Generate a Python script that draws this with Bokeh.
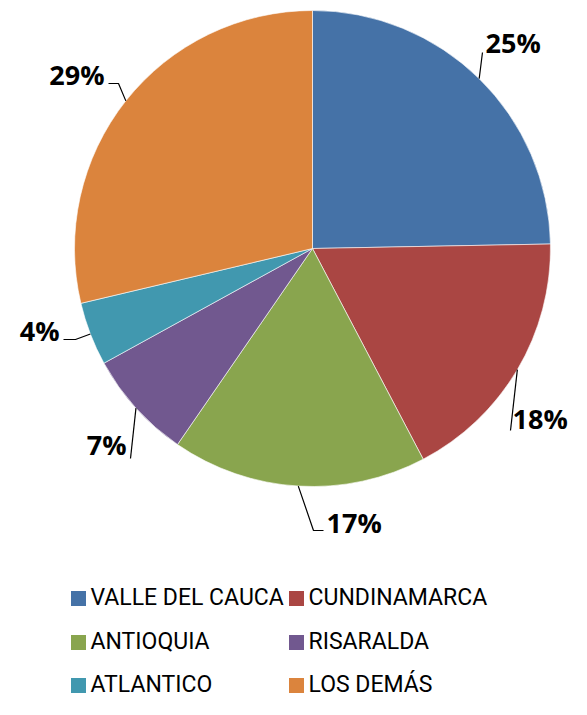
import math
from bokeh.plotting import figure
from bokeh.models import Range1d, ColumnDataSource
from bokeh.core.properties import value
from bokeh.embed import file_html
from bokeh.resources import INLINE

categories = ["VALLE DEL CAUCA", "CUNDINAMARCA", "ANTIOQUIA", "RISARALDA", "ATLANTICO", "LOS DEMÁS"]
shares = [24.7, 17.6, 17.3, 7.4, 4.3, 28.7]
colors = ["#4572A7", "#AA4643", "#89A54E", "#71588F", "#4198AF", "#DB843D"]

W, H = 571, 699
CX, CY, R = 312, 248, 238  # pie centre / radius in page px

def sx(x):
    return x - CX

def sy(y):
    return CY - y

p = figure(width=W, height=H, output_backend="svg", toolbar_location=None,
           x_range=Range1d(-CX, W - CX), y_range=Range1d(CY - H, CY),
           min_border=0, outline_line_color=None)
p.axis.visible = False
p.grid.visible = False
p.background_fill_color = "white"
p.border_fill_color = "white"

total = sum(shares)
starts, ends, mids = [], [], []
cum = 0.0
for s in shares:
    a0 = math.pi / 2 - 2 * math.pi * cum / total
    cum += s
    a1 = math.pi / 2 - 2 * math.pi * cum / total
    starts.append(a0)
    ends.append(a1)
    mids.append((a0 + a1) / 2)

src = ColumnDataSource(dict(start=starts, end=ends, color=colors, cat=categories))
p.wedge(x=0, y=0, radius=R, start_angle="start", end_angle="end", direction="clock",
        fill_color="color", line_color="white", line_width=0.6, source=src)

# data labels with leader lines
labels = [f"{round(s / total * 100)}%" for s in shares]
# leader elbow points (page px) and label anchors, layout only
leader_rest = [[(482, 52)], [(510, 430)], [(313, 530), (323, 530)],
               [(130, 458)], [(75, 339), (63, 339)], [(118, 83), (108, 83)]]
label_pos = [(485, 42, "left"), (512, 418, "left"), (326, 522, "left"),
             (126, 444, "right"), (59, 330, "right"), (104, 74, "right")]

xs_l, ys_l = [], []
for m, rest in zip(mids, leader_rest):
    x0 = R * math.cos(m)
    y0 = R * math.sin(m)
    xs_l.append([x0] + [sx(px) for px, py in rest])
    ys_l.append([y0] + [sy(py) for px, py in rest])
p.multi_line(xs=xs_l, ys=ys_l, line_color="black", line_width=1.2)

for lab, (px, py, al) in zip(labels, label_pos):
    p.text(x=[sx(px)], y=[sy(py)], text=[lab], text_align=al, text_baseline="middle",
           text_font=value("Open Sans"), text_font_style="bold", text_font_size="27px",
           text_color="black")

# legend (manual, 2 columns)
col_x = [78, 296]
row_y = [598, 642, 685]
for i, (cat, c) in enumerate(zip(categories, colors)):
    cx_ = col_x[i % 2]
    cy_ = row_y[i // 2]
    p.rect(x=[sx(cx_)], y=[sy(cy_)], width=15, height=15, fill_color=c, line_color=None)
    p.text(x=[sx(cx_ + 12)], y=[sy(cy_ - 1)], text=[cat], text_align="left", text_baseline="middle",
           text_font=value("Roboto"), text_font_size="23px", text_color="black")

open("out.html", "w").write(file_html(p, INLINE))
